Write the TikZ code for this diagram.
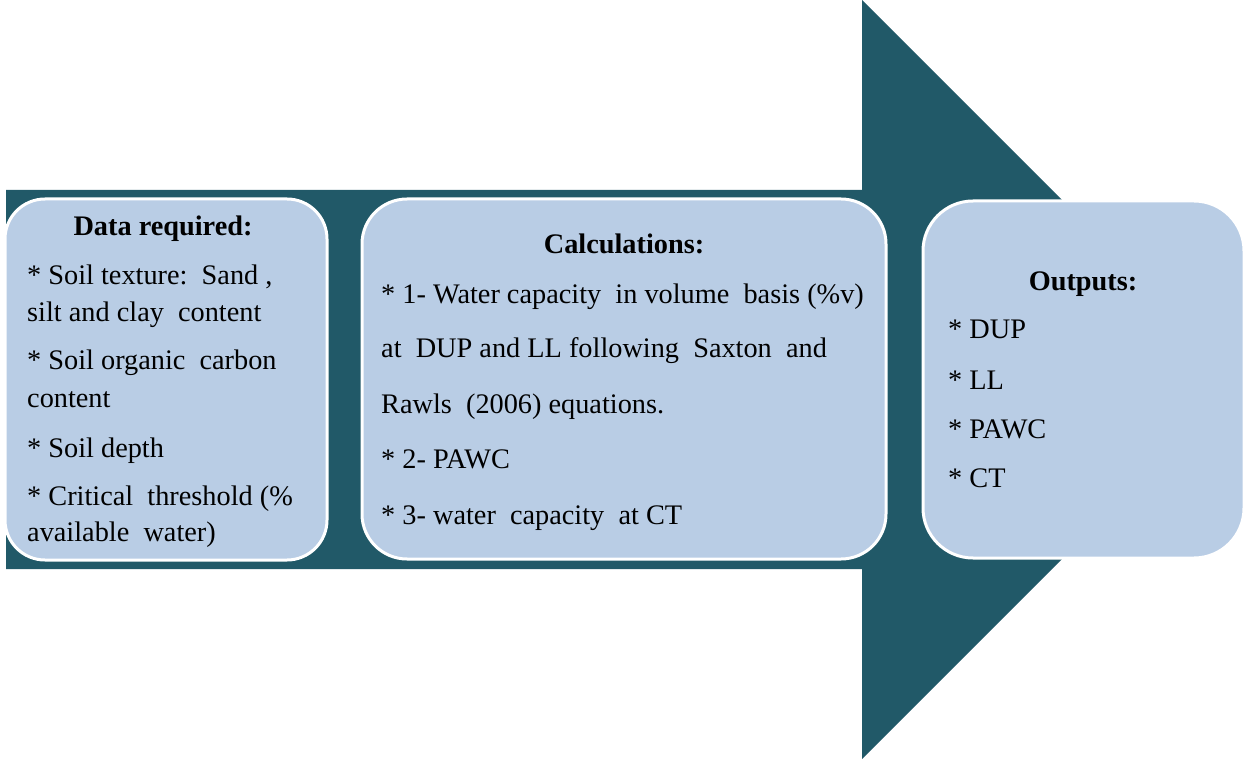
\documentclass[tikz,border=0pt]{standalone}
\usepackage{fontspec}
\setmainfont{Liberation Serif}
\definecolor{arrowteal}{HTML}{215968}
\definecolor{boxblue}{HTML}{B9CDE5}
\begin{document}
\begin{tikzpicture}[x=1pt,y=-1pt,
  panel/.style={draw=white, line width=3pt, fill=boxblue, rounded corners=#1, inner sep=0pt},
  txt/.style={anchor=base west, inner sep=0pt, font=\fontsize{28.3}{32}\selectfont},
  ttl/.style={anchor=base, inner sep=0pt, font=\fontsize{28.3}{32}\selectfont\bfseries}]
\useasboundingbox (0,0) rectangle (1248,759);
\fill[arrowteal] (6,190) -- (862,190) -- (862,0) -- (1241.5,379.5) -- (862,759) -- (862,569) -- (6,569) -- cycle;
% boxes
\node[panel=40pt, minimum width=322pt, minimum height=361pt] (data) at (166,379.5) {};
\node[panel=45pt, minimum width=524pt, minimum height=360pt] (calc) at (624,379) {};
\node[panel=50pt, minimum width=321pt, minimum height=357pt] (out) at (1083.5,379.5) {};
% box 1 text
\node[ttl] (dt) at (163,236) {Data required:};
\node[txt] (d1) at (27,285) {*~Soil texture:~~Sand~,};
\node[txt] (d2) at (27,322) {silt and clay~~content};
\node[txt] (d3) at (27,370) {*~Soil organic~~carbon};
\node[txt] (d4) at (27,407) {content};
\node[txt] (d5) at (27,457) {*~Soil depth};
\node[txt] (d6) at (27,505) {*~Critical~~threshold (\%};
\node[txt] (d7) at (27,541) {available~~water)};
% box 2 text
\node[ttl] (ct) at (624,254) {Calculations:};
\node[txt] (c1) at (381,304) {*~1-~Water capacity~~in volume~~basis (\%v)};
\node[txt] (c2) at (381,358) {at~~DUP and LL following~~Saxton~~and};
\node[txt] (c3) at (381,413) {Rawls~~(2006) equations.};
\node[txt] (c4) at (381,468) {*~2-~PAWC};
\node[txt] (c5) at (381,524) {*~3-~water~~capacity~~at CT};
% box 3 text
\node[ttl] (ot) at (1083,291) {Outputs:};
\node[txt] (o1) at (948,339) {*~DUP};
\node[txt] (o2) at (948,389) {*~LL};
\node[txt] (o3) at (948,438) {*~PAWC};
\node[txt] (o4) at (948,487) {*~CT};
\end{tikzpicture}
\end{document}
